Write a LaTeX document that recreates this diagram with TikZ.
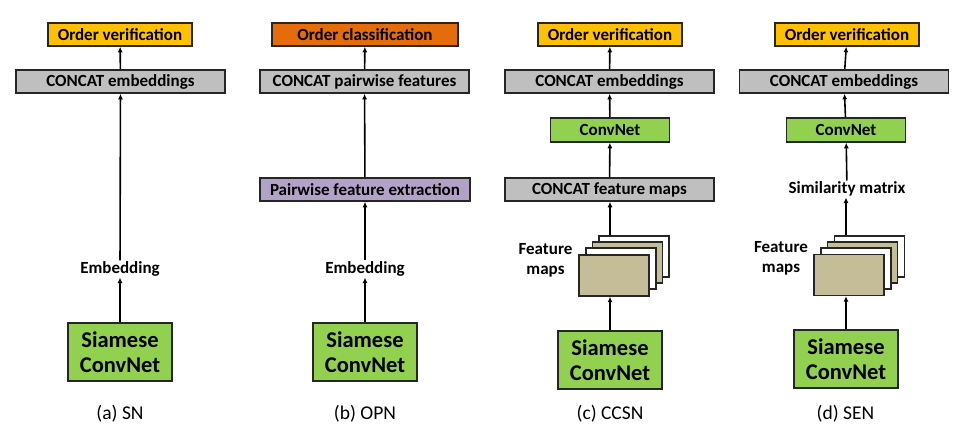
\documentclass[tikz,border=0pt]{standalone}
\usepackage{fontspec}
\setmainfont{Carlito}
\usetikzlibrary{arrows.meta,calc}
\definecolor{cyel}{HTML}{FFC000}
\definecolor{corg}{HTML}{E46C0A}
\definecolor{cgry}{HTML}{BFBFBF}
\definecolor{cgrn}{HTML}{92D050}
\definecolor{cpur}{HTML}{B3A2C7}
\definecolor{ctan}{HTML}{C4BD97}
\begin{document}
\begin{tikzpicture}[x=1pt,y=-1pt,
  box/.style={draw=black!85,line width=1.6pt,inner sep=0pt,font=\bfseries\fontsize{17}{17}\selectfont,minimum height=23pt},
  yelbox/.style={box,fill=cyel,minimum width=144pt},
  orgbox/.style={box,fill=corg,minimum width=186pt},
  grybox/.style={box,fill=cgry,minimum width=209pt},
  purbox/.style={box,fill=cpur,minimum width=210pt},
  cnbox/.style={box,fill=cgrn,minimum width=119pt,minimum height=24pt},
  siambox/.style={draw=black!85,line width=1.8pt,fill=cgrn,inner sep=0pt,minimum width=104pt,minimum height=58pt,align=center,font=\bfseries\fontsize{22.5}{25}\selectfont},
  lbl/.style={inner sep=1pt,font=\bfseries\fontsize{17}{20}\selectfont,align=center},
  captxt/.style={inner sep=0pt,font=\fontsize{19.5}{20}\selectfont},
  fm/.style={draw=black!85,line width=1.4pt,minimum width=70pt,minimum height=41pt,inner sep=0pt},
  arr/.style={line width=1.6pt,-{Latex[length=5.5pt,width=5pt]}}]
\useasboundingbox (0,0) rectangle (969,433);
% ---------- (a) SN
\node[yelbox] (a1) at (120,34.5) {Order verification};
\node[grybox] (a2) at (120.5,81.5) {CONCAT embeddings};
\node[lbl] (a3) at (120,269) {Embedding};
\node[siambox] (a4) at (120,352) {Siamese\\ConvNet};
\node[captxt] (a5) at (120,414) {(a) SN};
\draw[arr] (a2) -- (a1);
\draw[arr] (a3) -- (a2);
\draw[arr] (a4) -- (a3);
% ---------- (b) OPN
\node[orgbox] (b1) at (365,34.5) {Order classification};
\node[grybox] (b2) at (364.5,81.5) {CONCAT pairwise features};
\node[purbox] (b3) at (365,189.5) {Pairwise feature extraction};
\node[lbl] (b4) at (365,269) {Embedding};
\node[siambox] (b5) at (365,352) {Siamese\\ConvNet};
\node[captxt] (b6) at (365,414) {(b) OPN};
\draw[arr] (b2) -- (b1);
\draw[arr] (b3) -- (b2);
\draw[arr] (b4) -- (b3);
\draw[arr] (b5) -- (b4);
% ---------- (c) CCSN
\node[yelbox] (c1) at (610,34.5) {Order verification};
\node[grybox] (c2) at (609.5,81.5) {CONCAT embeddings};
\node[cnbox] (c3) at (610,130) {ConvNet};
\node[grybox] (c4) at (609.5,189.5) {CONCAT feature maps};
\node[fm,fill=white] (c5d) at (634,256.5) {};
\node[fm,fill=ctan] (c5c) at (627.5,262.5) {};
\node[fm,fill=white] (c5b) at (621,268.5) {};
\node[fm,fill=ctan] (c5a) at (614,275.5) {};
\node[lbl] (c6) at (545.5,260) {Feature\\maps};
\node[siambox] (c7) at (610,360) {Siamese\\ConvNet};
\node[captxt] (c8) at (610,414) {(c) CCSN};
\draw[arr] (c2) -- (c1);
\draw[arr] (c3) -- (c2);
\draw[arr] (c4) -- (c3);
\draw[arr] (c7.north |- c5d.north) -- (c7.north |- c4.south);
\draw[arr] (c7.north) -- (c7.north |- c5a.south);
% ---------- (d) SEN
\node[yelbox] (d1) at (847,34.5) {Order verification};
\node[grybox] (d2) at (844,81.5) {CONCAT embeddings};
\node[cnbox] (d3) at (846,130) {ConvNet};
\node[lbl] (d4) at (847,189) {Similarity matrix};
\node[fm,fill=white] (d5d) at (869.5,256.5) {};
\node[fm,fill=ctan] (d5c) at (862.5,262.5) {};
\node[fm,fill=white] (d5b) at (856,268.5) {};
\node[fm,fill=ctan] (d5a) at (849,275) {};
\node[lbl] (d6) at (781,258) {Feature\\maps};
\node[siambox] (d7) at (846,359) {Siamese\\ConvNet};
\node[captxt] (d8) at (845.5,414) {(d) SEN};
\draw[arr] (d2) -- (d1);
\draw[arr] (d3) -- (d2);
\draw[arr] (d4) -- (d3);
\draw[arr] (d7.north |- d5d.north) -- (d7.north |- d4.south);
\draw[arr] (d7.north) -- (d7.north |- d5a.south);
\end{tikzpicture}
\end{document}
